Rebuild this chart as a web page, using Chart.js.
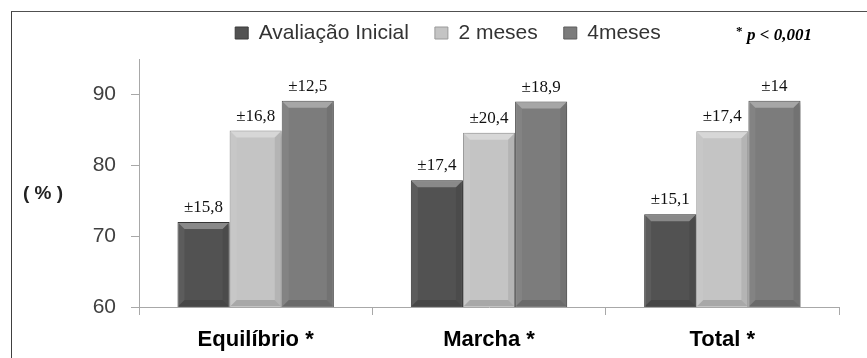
<!DOCTYPE html>
<html>
<head>
<meta charset="utf-8">
<script src="https://cdn.jsdelivr.net/npm/chart.js@4.4.1/dist/chart.umd.min.js"></script>
<style>
  html, body { margin: 0; padding: 0; background: #fff; overflow: hidden; }
  #wrap { position: relative; width: 867px; height: 358px; }
  #frame { position: absolute; left: 11px; top: 11px; width: 900px; height: 400px;
           border-left: 1.5px solid #404040; border-top: 1.5px solid #505050; }
  #c { position: absolute; left: 0; top: 0; }
</style>
</head>
<body>
<div id="wrap">
  <div id="frame"></div>
  <canvas id="c" width="867" height="358"></canvas>
</div>
<script>
// Scores (%) per domain at each assessment
const categories  = ['Equilíbrio *', 'Marcha *', 'Total *'];
const seriesNames = ['Avaliação Inicial', '2 meses', '4meses'];
const inicial = [72.0, 77.9, 73.1];
const meses2  = [84.9, 84.6, 84.8];
const meses4  = [89.1, 89.0, 89.1];
// Standard deviations printed above each bar
const sdInicial = ['15,8', '17,4', '15,1'];
const sdMeses2  = ['16,8', '20,4', '17,4'];
const sdMeses4  = ['12,5', '18,9', '14'];
const yTicks = [60, 70, 80, 90];
const yMin = 60, yMax = 95;
const axisTitle = '( % )';
const noteStar = '*';
const noteText = 'p < 0,001';

const SANS = '"Liberation Sans", Arial, sans-serif';
const SERIF = '"Liberation Serif", "Times New Roman", serif';
const LEGEND_CENTER_Y = 33;

const fills   = ['#525252', '#c4c4c4', '#7c7c7c'];
const borders = ['#3a3a3a', '#9a9a9a', '#5c5c5c'];
const sds = [sdInicial, sdMeses2, sdMeses4];

// Keeps the legend row compact while allowing wide gaps between entries
const legendRow = {
  id: 'legendRow',
  beforeLayout(chart) {
    const lg = chart.legend;
    if (lg && !lg._rowPatched) {
      const fit = lg.fit;
      lg.fit = function () { fit.call(this); this.height = 47; };
      lg._rowPatched = true;
    }
  },
  afterLayout(chart) {
    const lg = chart.legend;
    const o = lg.options.labels;
    lg.top = LEGEND_CENTER_Y - o.padding - o.font.size / 2;
  }
};

// Bevelled bars with a soft drop shadow and the ± labels
const bevelBars = {
  id: 'bevelBars',
  beforeDatasetsDraw(chart) {
    const c = chart.ctx;
    c.save();
    c.shadowColor = 'rgba(0,0,0,0.35)';
    c.shadowBlur = 5;
    c.shadowOffsetX = 2;
    c.shadowOffsetY = 1;
  },
  afterDatasetsDraw(chart) {
    const c = chart.ctx;
    c.restore();
    const area = chart.chartArea;
    chart.data.datasets.forEach((ds, i) => {
      const meta = chart.getDatasetMeta(i);
      meta.data.forEach((bar, j) => {
        const p = bar.getProps(['x', 'y', 'base', 'width'], true);
        const l = p.x - p.width / 2 + 1, r = p.x + p.width / 2 - 1;
        const t = p.y + 1, b = Math.min(p.base, area.bottom) - 1;
        const e = 6;
        const face = (pts, col) => {
          c.beginPath();
          c.moveTo(pts[0][0], pts[0][1]);
          for (let k = 1; k < pts.length; k++) c.lineTo(pts[k][0], pts[k][1]);
          c.closePath();
          c.fillStyle = col;
          c.fill();
        };
        c.save();
        c.beginPath();
        c.rect(area.left, area.top - 20, area.width, area.height + 20);
        c.clip();
        face([[l, t], [r, t], [r - e, t + e], [l + e, t + e]], 'rgba(255,255,255,0.32)');
        face([[l, t], [l + e, t + e], [l + e, b - e], [l, b]], 'rgba(255,255,255,0.06)');
        face([[r, t], [r, b], [r - e, b - e], [r - e, t + e]], 'rgba(0,0,0,0.08)');
        face([[l, b], [l + e, b - e], [r - e, b - e], [r, b]], 'rgba(0,0,0,0.14)');
        c.restore();

        c.save();
        c.font = '17px ' + SERIF;
        c.fillStyle = '#111';
        c.textAlign = 'center';
        c.textBaseline = 'alphabetic';
        c.fillText('±' + sds[i][j], p.x, p.y - 10);
        c.restore();
      });
    });
  },
  afterDraw(chart) {
    const c = chart.ctx;
    c.save();
    c.fillStyle = '#222';
    c.font = 'bold 19px ' + SANS;
    c.textAlign = 'center';
    c.textBaseline = 'middle';
    c.fillText(axisTitle, 43, 194);

    c.fillStyle = '#000';
    c.textAlign = 'left';
    c.textBaseline = 'alphabetic';
    c.font = 'bold 13px ' + SERIF;
    c.fillText(noteStar, 736, 35);
    c.font = 'italic bold 17px ' + SERIF;
    c.fillText(noteText, 747, 40);
    c.restore();
  }
};

new Chart(document.getElementById('c'), {
  type: 'bar',
  data: {
    labels: categories,
    datasets: [inicial, meses2, meses4].map((vals, i) => ({
      label: seriesNames[i],
      data: vals,
      backgroundColor: fills[i],
      borderColor: borders[i],
      borderWidth: 1,
      categoryPercentage: 0.67,
      barPercentage: 1.0
    }))
  },
  options: {
    responsive: false,
    animation: false,
    devicePixelRatio: 1,
    layout: { padding: { left: 57, right: 28, top: 12, bottom: 0 } },
    plugins: {
      legend: {
        display: true,
        position: 'top',
        align: 'center',
        labels: {
          boxWidth: 13,
          boxHeight: 12,
          padding: 26,
          color: '#333',
          font: { family: SANS, size: 21 }
        }
      },
      tooltip: { enabled: false }
    },
    scales: {
      x: {
        grid: { drawOnChartArea: false, drawTicks: true, tickLength: 8, color: '#a8a8a8', lineWidth: 1 },
        border: { display: true, color: '#a8a8a8', width: 1 },
        ticks: { padding: 12, color: '#000', font: { family: SANS, size: 22, weight: 'bold' } },
        afterFit(s) { s.height = 51; }
      },
      y: {
        min: yMin,
        max: yMax,
        afterBuildTicks(s) { s.ticks = yTicks.map(v => ({ value: v })); },
        grid: { drawOnChartArea: false, drawTicks: true, tickLength: 8, color: '#a8a8a8', lineWidth: 1 },
        border: { display: true, color: '#a8a8a8', width: 1 },
        ticks: { padding: 15, color: '#404040', font: { family: SANS, size: 21 } },
        afterFit(s) { s.width = 82; }
      }
    }
  },
  plugins: [legendRow, bevelBars]
});
</script>
</body>
</html>
